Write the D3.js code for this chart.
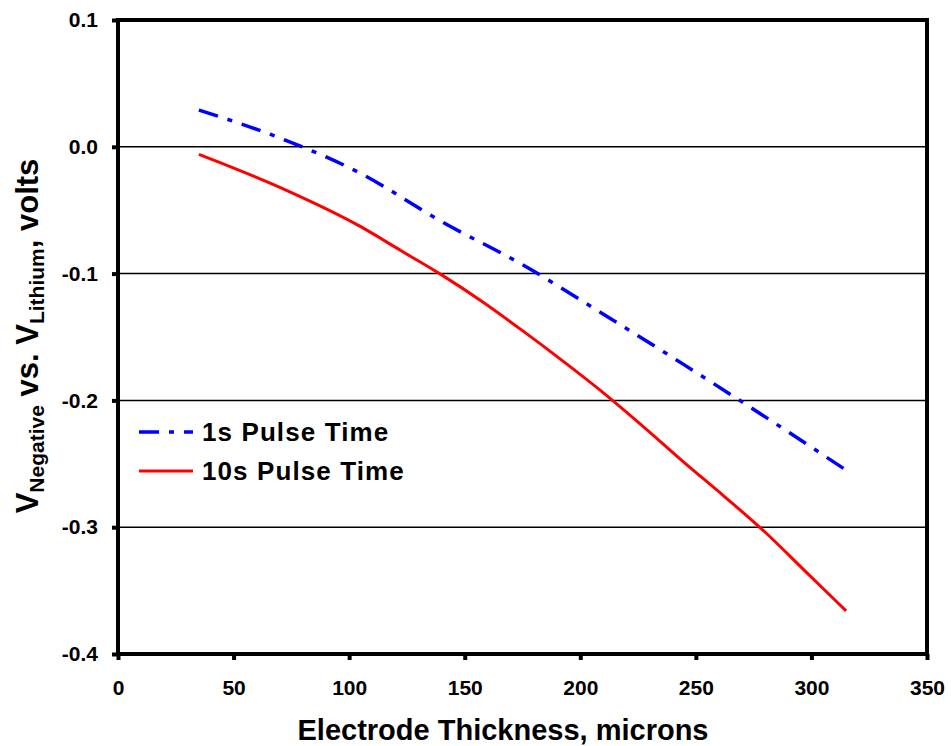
<!DOCTYPE html>
<html>
<head>
<meta charset="utf-8">
<script src="https://cdn.jsdelivr.net/npm/d3@7"></script>
<style>
body{margin:0;background:#fff;}
text{font-family:"Liberation Sans",Arial,sans-serif;font-weight:bold;fill:#000;}
</style>
</head>
<body>
<script>
var thickness=[35,70,105,122.5,140,157.5,175,192.5,210,227.5,245,262.5,280,297.5,315];
var pulse10s=[-0.006,-0.032,-0.063,-0.082,-0.101,-0.122,-0.145,-0.169,-0.194,-0.221,-0.249,-0.276,-0.304,-0.335,-0.366];
var thickness1s=[35,70,105,140,175,210,245,280,315];
var pulse1s=[0.029,0.007,-0.021,-0.059,-0.093,-0.132,-0.172,-0.213,-0.255];
var xTicks=[0,50,100,150,200,250,300,350];
var yTicks=[0.1,0.0,-0.1,-0.2,-0.3,-0.4];
var gridVals=[0.0,-0.1,-0.2,-0.3];

var width=951,height=746;
var svg=d3.select("body").append("svg")
	.attr("width",width)
	.attr("height",height);

var x=d3.scaleLinear().domain([0,350]).range([118,927]);
var y=d3.scaleLinear().domain([-0.4,0.1]).range([654,20]);

// grid
svg.selectAll("line.grid")
	.data(gridVals)
	.enter().append("line")
	.attr("class","grid")
	.attr("x1",x(0)).attr("x2",x(350))
	.attr("y1",function(d){return y(d);})
	.attr("y2",function(d){return y(d);})
	.attr("stroke","#000")
	.attr("stroke-width",1.5);

// axes
var xAxis=d3.axisBottom(x).tickValues(xTicks).tickSize(6).tickPadding(20).tickFormat(d3.format("d"));
var yAxis=d3.axisLeft(y).tickValues(yTicks).tickSize(6).tickPadding(14).tickFormat(d3.format(".1f"));

var gx=svg.append("g").attr("transform","translate(0,"+y(-0.4)+")").call(xAxis);
var gy=svg.append("g").attr("transform","translate("+x(0)+",0)").call(yAxis);
[gx,gy].forEach(function(g){
	g.select(".domain").remove();
	g.selectAll(".tick line").attr("stroke","#000").attr("stroke-width",4);
	g.selectAll(".tick text").attr("font-size",21).attr("font-family","Liberation Sans, Arial, sans-serif").attr("font-weight","bold").attr("fill","#000");
});
gy.selectAll(".tick text").text(function(d){return d3.format(".1f")(d).replace("−","-");});

// frame
svg.append("rect")
	.attr("x",x(0)).attr("y",y(0.1))
	.attr("width",x(350)-x(0))
	.attr("height",y(-0.4)-y(0.1))
	.attr("fill","none")
	.attr("stroke","#000")
	.attr("stroke-width",4);

// lines
var line=d3.line().curve(d3.curveMonotoneX)
	.x(function(d){return x(d[0]);})
	.y(function(d){return y(d[1]);});

svg.append("path")
	.attr("d",line(d3.zip(thickness1s,pulse1s)))
	.attr("fill","none")
	.attr("stroke","#0000ff")
	.attr("stroke-width",3.5)
	.attr("stroke-dasharray","20,10,5,10");

svg.append("path")
	.attr("d",line(d3.zip(thickness,pulse10s)))
	.attr("fill","none")
	.attr("stroke","#ff0000")
	.attr("stroke-width",3);

// legend
var legend=[{label:"1s Pulse Time",color:"#0000ff",dash:"20,10,5,10",w:3.5},
            {label:"10s Pulse Time",color:"#ff0000",dash:null,w:3}];
var lg=svg.selectAll("g.legend").data(legend).enter().append("g")
	.attr("transform",function(d,i){return "translate(139,"+(432+i*39)+")";});
lg.append("line")
	.attr("x1",0).attr("x2",54).attr("y1",0).attr("y2",0)
	.attr("stroke",function(d){return d.color;})
	.attr("stroke-width",function(d){return d.w;})
	.attr("stroke-dasharray",function(d){return d.dash;});
lg.append("text")
	.attr("x",63).attr("y",9)
	.attr("font-size",26)
	.attr("letter-spacing",1.1)
	.text(function(d){return d.label;});

// axis titles
svg.append("text")
	.attr("x",503).attr("y",740)
	.attr("text-anchor","middle")
	.attr("font-size",29)
	.text("Electrode Thickness, microns");

var yt=svg.append("text")
	.attr("transform","translate(38,336) rotate(-90)")
	.attr("text-anchor","middle")
	.attr("font-size",31);
yt.append("tspan").text("V");
yt.append("tspan").attr("font-size",21).attr("dy",6).text("Negative");
yt.append("tspan").attr("dy",-6).text(" vs. V");
yt.append("tspan").attr("font-size",21).attr("dy",6).text("Lithium");
yt.append("tspan").attr("dy",-6).text(", volts");
</script>
</body>
</html>
